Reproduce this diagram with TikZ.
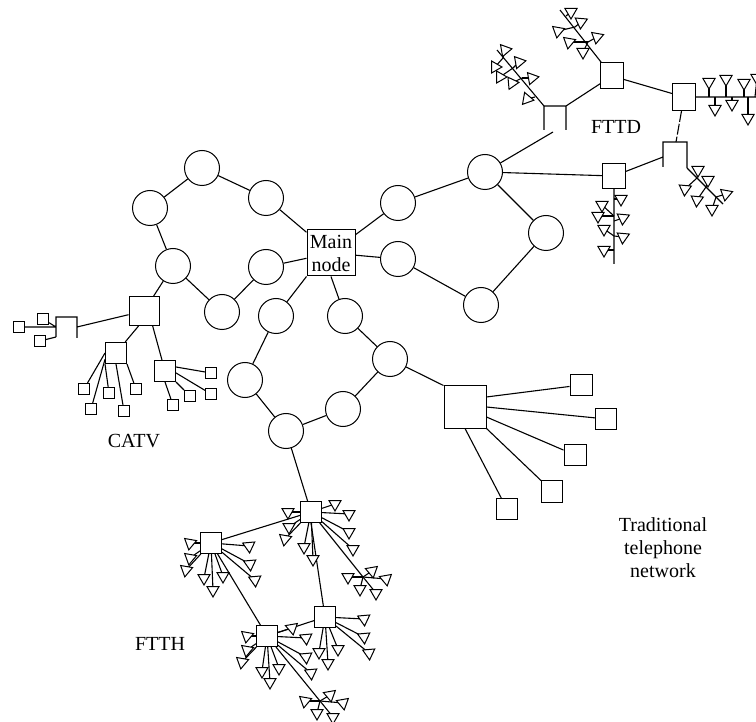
\documentclass[tikz,border=0pt]{standalone}
\usepackage{fontspec}
\setmainfont{Liberation Serif}
\usetikzlibrary{shapes.geometric}
\tikzset{
link/.style={line width=1.1pt},
ringnode/.style={draw, line width=1pt, circle, minimum size=35pt, inner sep=0pt},
boxnode/.style={draw, line width=1pt, rectangle, inner sep=0pt},
term/.style={draw, line width=1pt, regular polygon, regular polygon sides=3, minimum size=14pt, inner sep=0pt},
lbl/.style={font=\fontsize{20}{23}\selectfont, align=center, inner sep=0pt}
}
\begin{document}
\begin{tikzpicture}[x=1pt, y=-1pt]
\useasboundingbox (0,0) rectangle (756,722);
\clip (0,0) rectangle (756,722);
% ring nodes
\foreach \n/\x/\y in {a1/202/168, a2/266/198, a3/150/208, a4/173/266, a5/266/267, a6/222/312,
  b1/398/203, b2/485/172, b3/546/233, b4/481/305, b5/398/259,
  d1/345/316, d2/390/359, d3/343/409, d4/286/431, d5/245/380, d6/276/316} {
\node[ringnode] (\n) at (\x,\y) {};}
\node[boxnode, lbl, minimum width=48pt, minimum height=46pt] (main) at (331,253) {Main\\node};
\foreach \p/\q in {a3/a1, a1/a2, a2/main, a3/a4, a4/a6, a6/a5, a5/main,
  main/b1, b1/b2, b2/b3, b3/b4, b4/b5, b5/main,
  main.south/d1, d1/d2, d2/d3, d3/d4, d4/d5, d5/d6, d6/main.south west} {
\draw[link] (\p) -- (\q);}
% square nodes
\foreach \n/\x/\y/\w/\h in {big/465/407/42/42, s1/581/385/22/21, s2/606/419/21/21, s3/575/455/22/21,
  s4/552/491/21/22, s5/507/509/21/21,
  cat/144/311/30/29, cat1/116/353/21/21, cat2/165/371/21/21,
  k1/84/389/11/11, k2/91/409/11/11, k3/109/393/11/11, k4/124/411/11/11, k5/136/389/11/11,
  k6/211/373/11/11, k7/211/394/11/11, k8/190/396/11/11, k9/173/405/11/11,
  k10/19/327/11/11, k11/43/319/11/11, k12/40/341/11/11,
  home1/311/512/21/21, home2/211/543/21/21, home3/325/617/21/21, home4/267/636/21/21,
  door1/612/76/23/26, door2/684/97/23/27, door3/614/176/23/25} {
\node[boxnode, minimum width=\w pt, minimum height=\h pt] (\n) at (\x,\y) {};}
\foreach \p/\q in {d2/big.north west, big.25/s1, big.east/s2, big.-25/s3, big.south east/s4, big.south/s5,
  a4/cat, cat.250/cat1, cat.300/cat2, cat1.west/k1, cat1.210/k2, cat1.south west/k3, cat1.south/k4, cat1.south east/k5,
  cat2.20/k6, cat2.-10/k7, cat2.south east/k8, cat2.south/k9,
  d4/home1, home1/home2, home1.south/home3, home2/home4, home3/home4,
  door1/door2, b2/door3} {
\draw[link] (\p) -- (\q);}
% brackets
\coordinate (l1) at (56,337); \coordinate (l2) at (56,317); \coordinate (l3) at (77,317); \coordinate (l4) at (77,338);
\coordinate (l5) at (77,327); \coordinate (l6) at (56,327);
\coordinate (u1) at (544,130); \coordinate (u2) at (544,106); \coordinate (u3) at (566,106); \coordinate (u4) at (566,130);
\coordinate (u5) at (553,132);
\coordinate (v1) at (663,167); \coordinate (v2) at (663,142); \coordinate (v3) at (687,142); \coordinate (v4) at (687,168);
\coordinate (v5) at (676,142); \coordinate (v6) at (663,157);
\draw[link] (l1) -- (l2) -- (l3) -- (l4) (l5) -- (cat) (k10) -- (l6) (k11) -- (l6) (k12) -- (l1);
\draw[link] (u1) -- (u2) -- (u3) -- (u4) (u3) -- (door1) (b2) -- (u5);
\draw[link] (v1) -- (v2) -- (v3) -- (v4) (door3) -- (v6);
\draw[link, dash pattern=on 11pt off 2pt] (door2) -- (v5);
% spines
\coordinate (t1) at (560,10); \coordinate (t2) at (497,50); \coordinate (t3) at (723,204);
\coordinate (t4) at (614,264); \coordinate (t5) at (756,97);
\draw[link] (door1) -- (t1) (u2) -- (t2) (v4) -- (t3) (door3) -- (t4) (door2) -- (t5);
\coordinate (hub1) at (363,577); \coordinate (hub2) at (320,701);
\draw[link] (home1) -- (hub1) (home4) -- (hub2);
% branch points
\foreach \n/\x/\y in {q1/566/16, q2/575/27, q3/588/42,
  q4/503/58, q5/513/68, q6/522/78, q7/535/97,
  q8/697/178, q9/706/187, q10/716/197,
  q11/614/199, q12/614/216, q13/614/221, q14/614/236, q15/614/250,
  q16/709/97, q17/726/97, q18/744/97, q19/755/97, q20/715/97, q21/732/97, q22/748/97} {
\coordinate (\n) at (\x,\y);}
% terminals
\foreach \n/\x/\y/\r/\f in {
  f1/571/12/180/q1, f2/581/22/175/q2, f3/558/31/170/q2, f4/569/42/170/q3, f5/597/37/170/q3, f6/583/52/180/q3,
  f7/505/50/160/q4, f8/519/62/160/q5, f9/495/67/150/q4, f10/500/77/150/q5, f11/512/83/155/q6, f12/532/78/160/q6, f13/527/99/140/q7,
  f14/698/170/180/q8, f15/708/180/180/q9, f16/685/189/175/q8, f17/697/200/175/q9, f18/726/194/170/q10, f19/712/209/180/q10,
  f20/621/199/180/q11, f21/602/205/180/q12, f22/598/216/180/q12, f23/623/218/175/q13, f24/604/229/180/q14, f25/623/237/175/q14, f26/604/250/180/q15,
  f27/709/82/180/q16, f28/726/79/180/q17, f29/744/83/180/q18, f30/757/78/180/q19, f31/715/109/180/q20, f32/732/104/180/q21, f33/748/118/180/q22,
  g1/335/504/180/home1, g2/349/514/180/home1, g3/349/532/180/home1, g4/353/549/180/home1, g5/288/512/180/home1, g6/289/527/180/home1, g7/285/539/170/home1, g8/304/547/180/home1, g9/313/559/180/home1,
  g10/348/577/180/hub1, g11/372/571/190/hub1, g12/386/579/190/hub1, g13/360/589/180/hub1, g14/376/593/180/hub1,
  g15/190/543/170/home2, g16/190/558/170/home2, g17/186/570/170/home2, g18/204/578/180/home2, g19/213/590/180/home2, g20/223/576/180/home2, g21/249/546/185/home2, g22/250/564/185/home2, g23/255/580/185/home2,
  g24/364/619/185/home3, g25/364/637/185/home3, g26/369/653/185/home3, g27/319/652/180/home3, g28/338/649/180/home3, g29/328/663/180/home3,
  g30/247/636/170/home4, g31/247/650/170/home4, g32/242/662/170/home4, g33/262/671/180/home4, g34/270/682/180/home4, g35/279/668/180/home4, g36/292/628/190/home4, g37/306/638/185/home4, g38/306/657/185/home4, g39/311/673/185/home4,
  g40/305/701/170/hub2, g41/330/695/190/hub2, g42/343/703/190/hub2, g43/317/713/180/hub2, g44/333/717/180/hub2} {
\draw[link] (\f) -- (\x,\y);
\node[term, fill=white, rotate=\r] (\n) at (\x,\y) {};}
% labels
\node[lbl] (fttd) at (616,127) {FTTD};
\node[lbl] (catv) at (134,441) {CATV};
\node[lbl] (ftth) at (160,644) {FTTH};
\node[lbl] (trad) at (663,548) {Traditional\\telephone\\network};
\end{tikzpicture}
\end{document}
